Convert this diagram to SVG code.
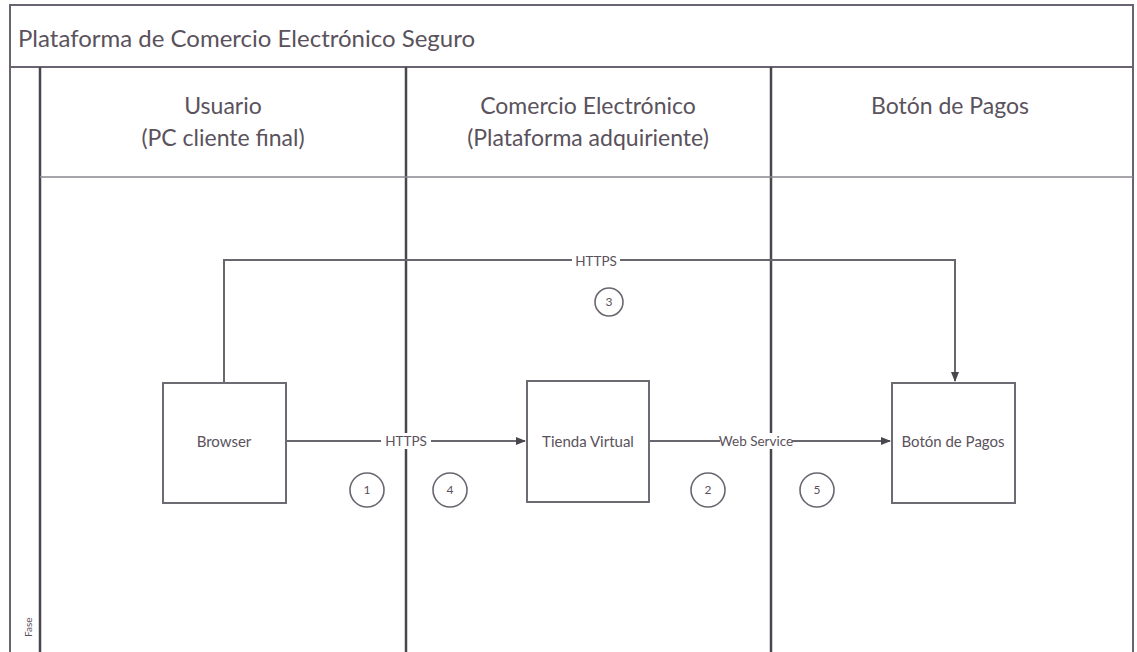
<svg xmlns="http://www.w3.org/2000/svg" width="1137" height="652" viewBox="0 0 1137 652">
<style>
text{font-family:Lato,"Open Sans","Liberation Sans",sans-serif;fill:#5a525c}
.frame{fill:none;stroke:#6a6470;stroke-width:2}
.lane{stroke:#4a464e;stroke-width:2.5}
.hline{stroke:#8a8690;stroke-width:1.5}
.box{fill:#fff;stroke:#6e6a74;stroke-width:2}
.conn{fill:none;stroke:#6a6670;stroke-width:2}
.circ{fill:#fff;stroke:#6a6670;stroke-width:1.6}
.hdr{font-size:23px;text-anchor:middle}
.node{font-size:15px;text-anchor:middle}
.lbl{font-size:13.5px;text-anchor:middle}
.num{font-size:12px;text-anchor:middle}
</style>
<defs>
<marker id="arr" markerWidth="10" markerHeight="10" refX="9" refY="5" orient="auto" markerUnits="userSpaceOnUse">
<path d="M0,1 L10,5 L0,9 Z" fill="#4a464e"/>
</marker>
</defs>
<rect width="1137" height="652" fill="#fff"/>
<g id="frame">
<path class="frame" d="M10,660 V5 H1133 V660"/>
<line x1="10" y1="67" x2="1133" y2="67" style="stroke:#6a6470;stroke-width:2"/>
<line class="lane" x1="40" y1="67" x2="40" y2="652"/>
<line class="lane" x1="406" y1="67" x2="406" y2="652"/>
<line class="lane" x1="771" y1="67" x2="771" y2="652"/>
<line class="hline" x1="40" y1="177" x2="1133" y2="177"/>
<text x="18" y="47" font-size="24">Plataforma de Comercio Electrónico Seguro</text>
<text x="32" y="637" font-size="10" transform="rotate(-90 32 637)">Fase</text>
</g>
<g id="lane-usuario">
<text class="hdr" x="223" y="114">Usuario</text>
<text class="hdr" x="223" y="146">(PC cliente final)</text>
</g>
<g id="lane-comercio">
<text class="hdr" x="588" y="114">Comercio Electrónico</text>
<text class="hdr" x="588" y="146">(Plataforma adquiriente)</text>
</g>
<g id="lane-boton">
<text class="hdr" x="950" y="114">Botón de Pagos</text>
</g>
<g id="connectors">
<path class="conn" d="M224,383 V260 H955 V381" marker-end="url(#arr)"/>
<rect x="572" y="252" width="48" height="16" fill="#fff"/>
<text class="lbl" x="596" y="266">HTTPS</text>
<path class="conn" d="M286,441 H525" marker-end="url(#arr)"/>
<rect x="381" y="433" width="50" height="16" fill="#fff"/>
<text class="lbl" x="406" y="446">HTTPS</text>
<path class="conn" d="M649,441 H890" marker-end="url(#arr)"/>
<rect x="720" y="433" width="72" height="16" fill="#fff"/>
<text class="lbl" x="756" y="446">Web Service</text>
</g>
<g id="node-browser">
<rect class="box" x="163" y="383" width="123" height="120"/>
<text class="node" x="224" y="447">Browser</text>
</g>
<g id="node-tienda">
<rect class="box" x="527" y="381" width="122" height="121"/>
<text class="node" x="588" y="447">Tienda Virtual</text>
</g>
<g id="node-boton">
<rect class="box" x="892" y="383" width="123" height="120"/>
<text class="node" x="953" y="447">Botón de Pagos</text>
</g>
<g id="step-3"><circle class="circ" cx="609" cy="302" r="14"/><text class="num" x="609" y="306">3</text></g>
<g id="step-1"><circle class="circ" cx="367" cy="490" r="17"/><text class="num" x="367" y="494">1</text></g>
<g id="step-4"><circle class="circ" cx="450" cy="490" r="17"/><text class="num" x="450" y="494">4</text></g>
<g id="step-2"><circle class="circ" cx="708" cy="490" r="17"/><text class="num" x="708" y="494">2</text></g>
<g id="step-5"><circle class="circ" cx="817" cy="490" r="17"/><text class="num" x="817" y="494">5</text></g>
</svg>
